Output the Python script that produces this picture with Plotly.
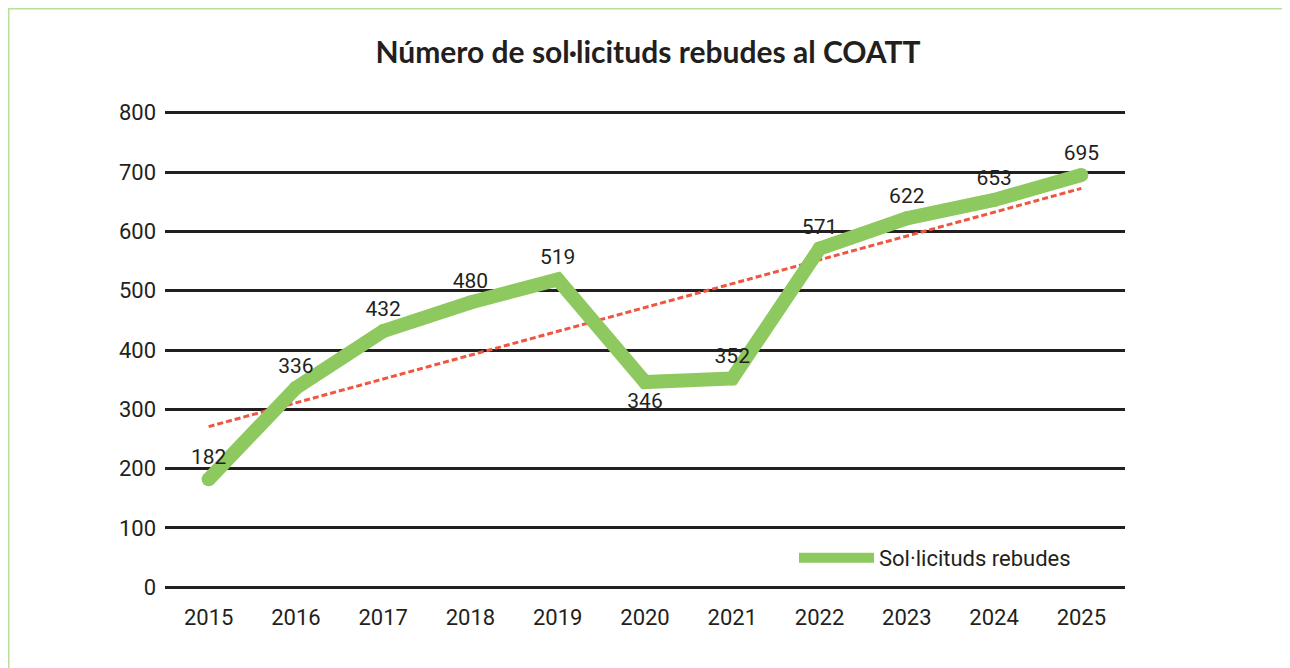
import numpy as np
import plotly.graph_objects as go

years = ["2015", "2016", "2017", "2018", "2019", "2020", "2021", "2022", "2023", "2024", "2025"]
values = [182, 336, 432, 480, 519, 346, 352, 571, 622, 653, 695]
label_pos = ["top center"] * 5 + ["bottom center"] + ["top center"] * 5
series_name = "Sol·licituds rebudes"
title = "Número de sol·licituds rebudes al COATT"
yticks = [0, 100, 200, 300, 400, 500, 600, 700, 800]

GREEN = "#8dc95f"
RED = "#f05540"
DARK = "#231f20"
NARROW = "Roboto, Liberation Sans Narrow, sans-serif"

# linear trend computed from the data
xi = np.arange(len(values))
slope, intercept = np.polyfit(xi, values, 1)
trend = (slope * xi + intercept).tolist()

fig = go.Figure()
fig.add_trace(go.Scatter(
    x=years, y=trend, mode="lines",
    line=dict(color=RED, width=3, dash="6px,3px"),
    showlegend=False, hoverinfo="skip",
))
fig.add_trace(go.Scatter(
    x=years, y=values, mode="lines+markers+text",
    line=dict(color=GREEN, width=14),
    marker=dict(color=GREEN, size=14),
    text=[str(v) for v in values], textposition=label_pos,
    textfont=dict(family=NARROW, size=21, color=DARK),
    showlegend=False, name=series_name,
))
fig.add_trace(go.Scatter(
    x=[None], y=[None], mode="lines",
    line=dict(color=GREEN, width=14),
    name=series_name, showlegend=True,
))

# page body has an 8px offset; figure is sized to fill the rest of the window
OFF = 8
W, H = 1290 - OFF, 668 - OFF
ML, MR, MT, MB = 157, 165, 100, 76
pw, ph = W - ML - MR, H - MT - MB

def px(xt):
    return (xt - OFF - ML) / pw

def py(yt):
    return (OFF + H - MB - yt) / ph

fig.add_shape(type="rect", xref="paper", yref="paper",
              x0=px(8.5), x1=px(1310), y0=py(690), y1=py(8.5),
              line=dict(color="#b8e09c", width=2), fillcolor="rgba(0,0,0,0)", layer="below")

fig.update_layout(
    width=W, height=H,
    margin=dict(l=ML, r=MR, t=MT, b=MB),
    paper_bgcolor="white", plot_bgcolor="white",
    title=dict(text="<b>" + title + "</b>", x=(648 - OFF) / W, xanchor="center",
               y=1 - (52 - OFF) / H, yanchor="middle",
               font=dict(family="Lato, Noto Sans, sans-serif", size=30, color=DARK)),
    xaxis=dict(type="category", range=[-0.5, 10.5], showgrid=False, showline=False,
               ticks="", tickfont=dict(family=NARROW, size=22, color=DARK),
               ticklabelstandoff=10, fixedrange=True),
    yaxis=dict(range=[-8, 808], tickvals=yticks, showgrid=True, gridcolor=DARK,
               gridwidth=3, zeroline=False, showline=False, ticks="",
               tickfont=dict(family=NARROW, size=22, color=DARK), ticklabelstandoff=8),
    legend=dict(x=px(794), xanchor="left", y=py(558), yanchor="middle",
                font=dict(family=NARROW, size=22, color=DARK),
                itemwidth=75, bgcolor="rgba(0,0,0,0)"),
    showlegend=True,
)

fig.write_html("out.html")
